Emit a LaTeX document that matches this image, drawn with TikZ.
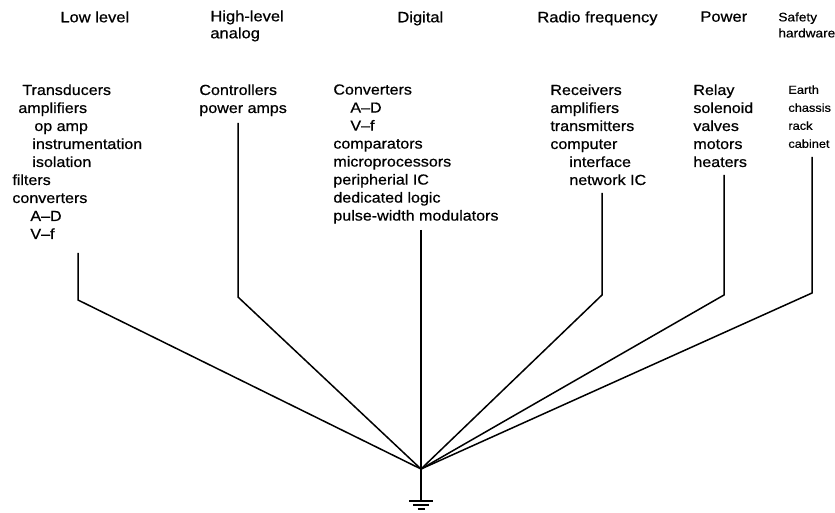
\documentclass[tikz,border=0pt]{standalone}
\usepackage{fontspec}
\setmainfont[FakeStretch=1.1, FakeBold=0.6]{Liberation Sans}

\tikzstyle{head} = [anchor = north west, inner sep = 0pt, align = left, font = \fontsize{7.5}{8.5}\selectfont]
\tikzstyle{list} = [anchor = north west, inner sep = 0pt, align = left, font = \fontsize{7.3}{9}\selectfont]
\tikzstyle{smallhead} = [anchor = north west, inner sep = 0pt, align = left, font = \fontsize{6.2}{8}\selectfont]
\tikzstyle{smalllist} = [anchor = north west, inner sep = 0pt, align = left, font = \fontsize{5.8}{9}\selectfont]
\tikzstyle{wire} = [line width = 0.75pt]
\tikzstyle{bar} = [line width = 1.1pt]

\begin{document}
\begin{tikzpicture}[x = 0.5pt, y = -0.5pt]
		\useasboundingbox (0, 0) rectangle (835, 513);

		% group headings
		\node [head] at (60, 11) (lowhead) {Low level};
		\node [head] at (210, 10) (highhead) {High-level\\analog};
		\node [head] at (397, 11) (dighead) {Digital};
		\node [head] at (537, 11) (rfhead) {Radio frequency};
		\node [head] at (700, 11) (pwrhead) {Power};
		\node [smallhead] at (778, 12) (safehead) {Safety\\hardware};

		% equipment lists
		\node [list] at (12, 84) (low) {\hspace*{5pt}Transducers\\ \hspace*{3pt}amplifiers\\ \hspace*{11pt}op amp\\ \hspace*{10pt}instrumentation\\ \hspace*{10pt}isolation\\ filters\\ converters\\ \hspace*{9pt}A--D\\ \hspace*{9pt}V--f};
		\node [list] at (199, 84) (high) {Controllers\\power amps};
		\node [list] at (333, 84) (dig) {Converters\\ \hspace*{8.5pt}A--D\\ \hspace*{8.5pt}V--f\\ comparators\\ microprocessors\\ peripherial IC\\ dedicated logic\\ pulse-width modulators};
		\node [list] at (550, 84) (rf) {Receivers\\ amplifiers\\ transmitters\\ computer\\ \hspace*{9.5pt}interface\\ \hspace*{9.5pt}network IC};
		\node [list] at (693, 84) (pwr) {Relay\\ solenoid\\ valves\\ motors\\ heaters};
		\node [smalllist] at (788, 85) (safe) {Earth\\ chassis\\ rack\\ cabinet};

		% ground wiring
		\coordinate (lowtop) at (78, 253);
		\coordinate (lowknee) at (78, 300);
		\coordinate (hightop) at (238, 123);
		\coordinate (highknee) at (238, 297);
		\coordinate (digtop) at (421, 230);
		\coordinate (rftop) at (602, 193);
		\coordinate (rfknee) at (602, 295);
		\coordinate (pwrtop) at (724, 175);
		\coordinate (pwrknee) at (724, 295);
		\coordinate (safetop) at (812, 157);
		\coordinate (safeknee) at (812, 293);
		\coordinate (gnd) at (421, 469);
		\coordinate (earth) at (421, 501);

		\draw [wire] (lowtop) -- (lowknee) -- (gnd);
		\draw [wire] (hightop) -- (highknee) -- (gnd);
		\draw [wire] (digtop) -- (gnd);
		\draw [wire] (rftop) -- (rfknee) -- (gnd);
		\draw [wire] (pwrtop) -- (pwrknee) -- (gnd);
		\draw [wire] (safetop) -- (safeknee) -- (gnd);
		\draw [wire] (gnd) -- (earth);

		% earth symbol
		\draw [bar] (earth) ++(-12, 0) -- ++(24, 0);
		\draw [bar] (earth) ++(-8, 4) -- ++(16, 0);
		\draw [bar] (earth) ++(-3.5, 8) -- ++(7, 0);
	\end{tikzpicture}
\end{document}
